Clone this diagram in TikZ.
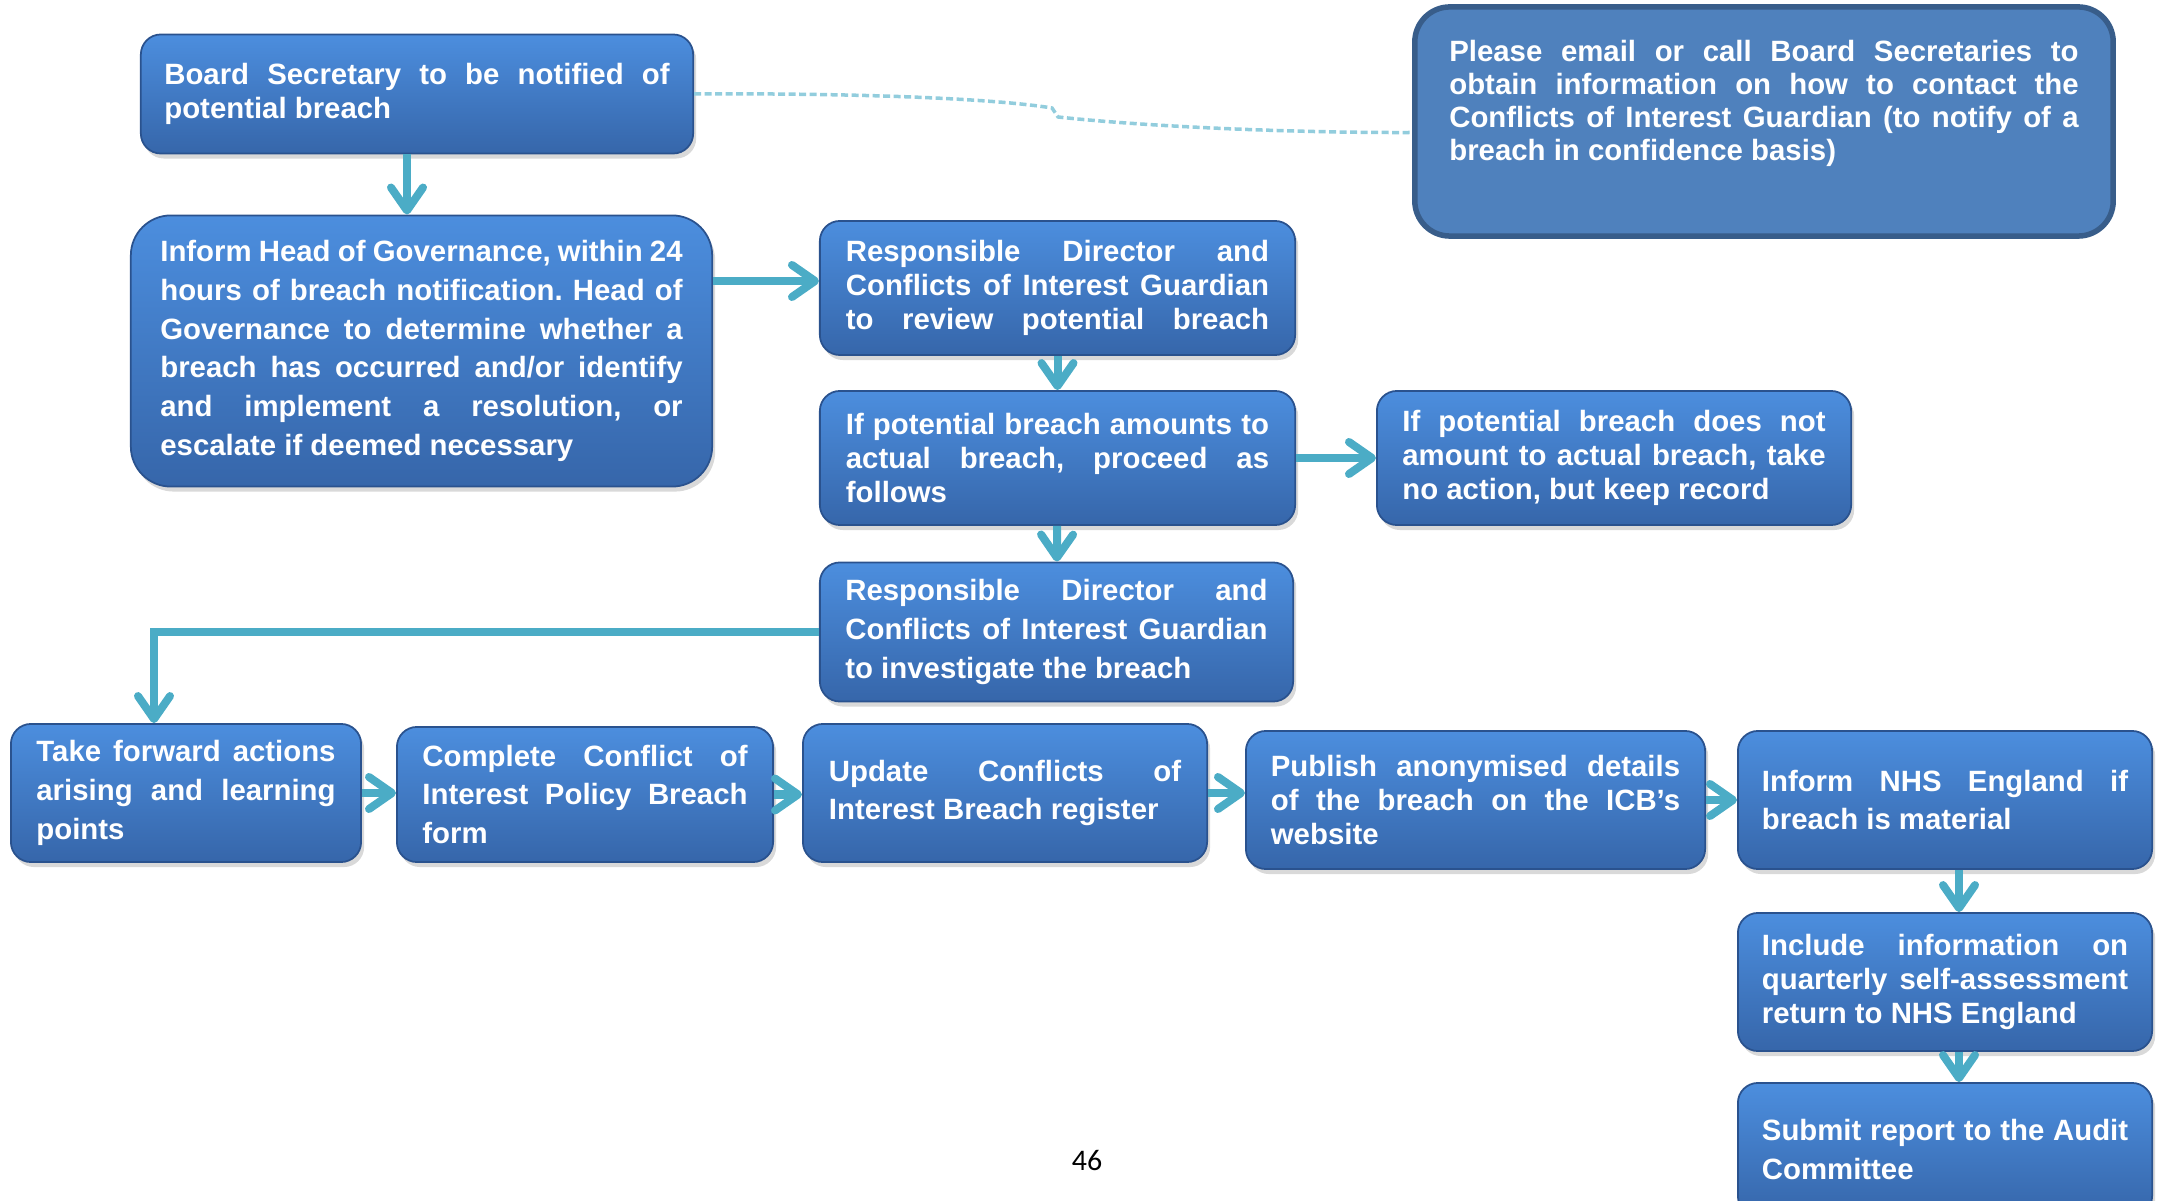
\documentclass[tikz,border=0pt]{standalone}
\usepackage{fontspec}
\setmainfont{Liberation Sans}
\newfontfamily\pagefont{Carlito}
\usepackage{tikz}
\usetikzlibrary{arrows.meta,calc,positioning,shadows}
\definecolor{boxtop}{RGB}{76,142,222}
\definecolor{boxbot}{RGB}{54,102,170}
\definecolor{boxline}{RGB}{42,82,142}
\definecolor{notefill}{RGB}{79,129,189}
\definecolor{noteline}{RGB}{56,93,138}
\definecolor{flowcol}{RGB}{75,172,198}
\definecolor{linkcol}{RGB}{146,205,221}
\frenchspacing

\begin{document}
\begin{tikzpicture}[x=0.01cm, y=-0.01cm,
		box/.style={rectangle, rounded corners=0.2cm, draw=boxline, line width=0.5pt,
			top color=boxtop, bottom color=boxbot, text=white, align=justify,
			inner xsep=0.2cm, inner ysep=0pt, font=\bfseries\fontsize{8.35}{9.7}\selectfont,
			drop shadow={shadow xshift=0.03cm, shadow yshift=-0.05cm, opacity=0.3}},
		loose/.style={font=\bfseries\fontsize{8.35}{11}\selectfont},
		note/.style={rectangle, rounded corners=0.35cm, draw=noteline, line width=0.055cm,
			fill=notefill, text=white, align=justify, inner xsep=0.2cm, inner ysep=0pt,
			font=\bfseries\fontsize{8.35}{9.4}\selectfont},
		flow/.style={draw=flowcol, line width=0.08cm, -{Straight Barb[length=0.23cm, width=0.32cm, round]}},
		linkline/.style={draw=linkcol, line width=0.035cm, dash pattern=on 0.07cm off 0.035cm}
		]
	\useasboundingbox (0,0) rectangle (2161,1201);
	\clip (0,0) rectangle (2161,1201);

	% signalement et examen
	\node[box, text width=5.05cm, minimum width=5.52cm, minimum height=1.19cm] (BS) at (417,94)
		{Board Secretary to be notified of\linebreak potential breach};
	\node[box, loose, rounded corners=0.4cm, text width=5.22cm, minimum width=5.81cm, minimum height=2.71cm] (HG) at (421.5,351)
		{Inform Head of Governance, within 24\linebreak hours of breach notification. Head of\linebreak Governance to determine whether a\linebreak breach has occurred and/or identify\linebreak and implement a resolution, or\linebreak escalate if deemed necessary};
	\node[box, text width=4.23cm, minimum width=4.75cm, minimum height=1.34cm] (RD) at (1057.5,288)
		{Responsible Director and\linebreak Conflicts of Interest Guardian\linebreak to\hfill review\hfill potential\hfill breach};
	\node[box, text width=4.23cm, minimum width=4.75cm, minimum height=1.34cm] (PA) at (1057.5,458)
		{If potential breach amounts to\linebreak actual breach, proceed as\linebreak follows};
	\node[box, text width=4.23cm, minimum width=4.74cm, minimum height=1.34cm] (PN) at (1614,458)
		{If potential breach does not\linebreak amount to actual breach, take\linebreak no action, but keep record};
	\node[box, loose, text width=4.22cm, minimum width=4.73cm, minimum height=1.39cm] (RI) at (1056.5,632)
		{Responsible Director and\linebreak Conflicts of Interest Guardian\linebreak to investigate the breach};
	\node[note, text width=6.29cm, minimum width=6.98cm, minimum height=2.29cm] (PE) at (1764,121.5)
		{Please email or call Board Secretaries to\linebreak obtain information on how to contact the\linebreak Conflicts of Interest Guardian (to notify of a\linebreak breach in confidence basis)\par\vspace{0.36cm}};

	% suite des actions
	\node[box, loose, text width=2.99cm, minimum width=3.5cm, minimum height=1.38cm] (TF) at (186,793)
		{Take forward actions\linebreak arising and learning\linebreak points};
	\node[box, loose, text width=3.25cm, minimum width=3.76cm, minimum height=1.35cm] (CF) at (585,794.5)
		{Complete Conflict of\linebreak Interest Policy Breach\linebreak form};
	\node[box, loose, text width=3.52cm, minimum width=4.04cm, minimum height=1.38cm] (UR) at (1005,793)
		{Update Conflicts of\linebreak Interest Breach register};
	\node[box, text width=4.09cm, minimum width=4.59cm, minimum height=1.38cm] (PW) at (1475.5,800)
		{Publish anonymised details\linebreak of the breach on the ICB’s\linebreak website};
	\node[box, loose, text width=3.66cm, minimum width=4.14cm, minimum height=1.38cm] (NE) at (1945,800)
		{Inform NHS England if\linebreak breach is material};
	\node[box, text width=3.66cm, minimum width=4.14cm, minimum height=1.38cm] (QR) at (1945,982)
		{Include information on\linebreak quarterly self-assessment\linebreak return to NHS England};
	\node[box, loose, text width=3.66cm, minimum width=4.14cm, minimum height=1.33cm] (AC) at (1945,1149.5)
		{Submit report to the Audit\linebreak Committee};

	\node[font=\pagefont\fontsize{8.5}{10}\selectfont] (pg) at (1087,1161) {46};

	% liens
	\draw[linkline] (BS.east) .. controls (850,93) and (990,98) .. (1052,108) -- (1058,117)
		.. controls (1150,127) and (1300,133) .. ($(PE.west)+(0,11)$);
	\draw[flow] ($(BS.south)+(-10,0)$) -- ($(BS.south |- HG.north)+(-10,0)$);
	\draw[flow] ($(HG.east |- RD.west)+(0,-7)$) -- ($(RD.west)+(0,-7)$);
	\draw[flow] (RD) -- (PA);
	\draw[flow] (PA) -- (PN);
	\draw[flow] (PA) -- (RI);
	\draw[flow] (RI.west) -| ($(TF.north)+(-32,0)$);
	\draw[flow] (TF.east) -- (TF.east -| CF.west);
	\draw[flow] (CF.east) -- (CF.east -| UR.west);
	\draw[flow] (UR.east) -- (UR.east -| PW.west);
	\draw[flow] (PW.east) -- (PW.east -| NE.west);
	\draw[flow] ($(NE.south)+(14,0)$) -- ($(QR.north)+(14,0)$);
	\draw[flow] ($(QR.south)+(14,0)$) -- ($(AC.north)+(14,0)$);
\end{tikzpicture}
\end{document}
